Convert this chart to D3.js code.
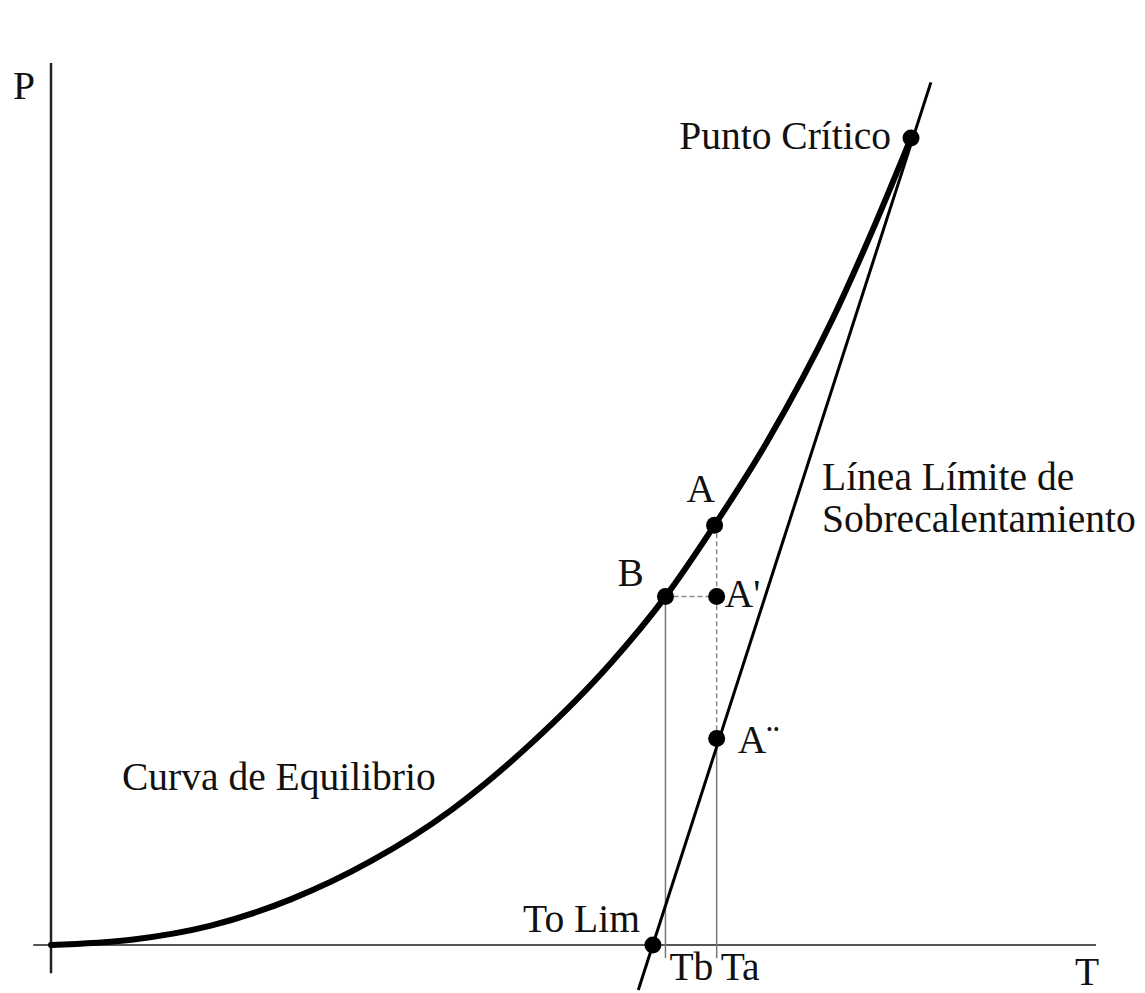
<!DOCTYPE html>
<html>
<head>
<meta charset="utf-8">
<script src="https://cdn.jsdelivr.net/npm/d3@7"></script>
<style>
  html, body { margin: 0; padding: 0; background: #fff; }
</style>
</head>
<body>
<svg id="chart" width="1145" height="993"></svg>
<script>
// Equilibrium curve (T, P) up to the critical point
const curveT = [0, 7.7, 15.3, 23.0, 30.6, 38.3, 45.9, 53.6, 58.8, 63.5, 68.5, 74.8, 79.0, 82.3];
const curveP = [0, 0.6, 2.2, 5.2, 9.5, 15.3, 22.8, 32.0, 39.5, 47.6, 57.0, 71.0, 82.1, 91.5];

// Superheating limit line (straight, two end points)
const limitT = [56.2, 84.2];
const limitP = [-5.1, 97.8];

// Marked states
const pointNames = ["Punto Crítico", "A", "B", "A'", "A¨", "To Lim"];
const pointT = [82.3, 63.5, 58.8, 63.7, 63.7, 57.6];
const pointP = [91.5, 47.6, 39.5, 39.5, 23.4, 0];

// Temperatures marked on the T axis
const tickNames = ["Tb", "Ta"];
const tickT = [58.8, 63.7];

const FONT = "'Liberation Serif', 'Times New Roman', 'DejaVu Serif', serif";

const svg = d3.select("#chart");
const x = d3.scaleLinear().domain([0, 100]).range([51, 1096]);
const y = d3.scaleLinear().domain([0, 100]).range([945, 63]);

// Axes
svg.append("line")
  .attr("x1", x(0)).attr("x2", x(0))
  .attr("y1", y(100)).attr("y2", y(-3.2))
  .attr("stroke", "#222").attr("stroke-width", 2.5);
svg.append("line")
  .attr("x1", x(-1.7)).attr("x2", x(100))
  .attr("y1", y(0)).attr("y2", y(0))
  .attr("stroke", "#555").attr("stroke-width", 2);

const P = n => pointP[pointNames.indexOf(n)];
const Tof = n => pointT[pointNames.indexOf(n)];

// Solid drop lines to the T axis
svg.append("line")
  .attr("x1", x(tickT[0])).attr("x2", x(tickT[0]))
  .attr("y1", y(P("B"))).attr("y2", y(-1.5))
  .attr("stroke", "#777").attr("stroke-width", 1.5);
svg.append("line")
  .attr("x1", x(tickT[1])).attr("x2", x(tickT[1]))
  .attr("y1", y(P("A¨"))).attr("y2", y(-1.5))
  .attr("stroke", "#777").attr("stroke-width", 1.5);

// Dashed construction lines
svg.append("line")
  .attr("x1", x(Tof("B"))).attr("x2", x(Tof("A'")))
  .attr("y1", y(P("B"))).attr("y2", y(P("A'")))
  .attr("stroke", "#888").attr("stroke-width", 1.5)
  .attr("stroke-dasharray", "5,3");
svg.append("line")
  .attr("x1", x(tickT[1])).attr("x2", x(tickT[1]))
  .attr("y1", y(P("A"))).attr("y2", y(P("A¨")))
  .attr("stroke", "#888").attr("stroke-width", 1.5)
  .attr("stroke-dasharray", "5,3");

// Superheating limit line
svg.append("path")
  .datum(d3.zip(limitT, limitP))
  .attr("d", d3.line().x(d => x(d[0])).y(d => y(d[1])))
  .attr("fill", "none").attr("stroke", "#000").attr("stroke-width", 3);

// Equilibrium curve
svg.append("path")
  .datum(d3.zip(curveT, curveP))
  .attr("d", d3.line().x(d => x(d[0])).y(d => y(d[1])).curve(d3.curveMonotoneX))
  .attr("fill", "none").attr("stroke", "#000").attr("stroke-width", 6)
  .attr("stroke-linecap", "round");

// State points
svg.selectAll("circle.pt")
  .data(d3.zip(pointT, pointP))
  .join("circle")
  .attr("class", "pt")
  .attr("cx", d => x(d[0])).attr("cy", d => y(d[1]))
  .attr("r", 8.5).attr("fill", "#000");

// Labels
const fs = 39.5;
const label = (t, px, py, anchor) =>
  svg.append("text").attr("x", px).attr("y", py)
    .attr("font-family", FONT).style("font-family", FONT)
    .attr("font-size", fs).attr("fill", "#111")
    .attr("text-anchor", anchor || "start").text(t);

label("P", 13, 99);
label("T", 1075, 985);
label("Punto Crítico", x(Tof("Punto Crítico")) - 20, y(P("Punto Crítico")) + 11, "end");
label("A", x(Tof("A")) - 28, y(P("A")) - 23);
label("B", x(Tof("B")) - 48, y(P("B")) - 11);
label("A'", x(Tof("A'")) + 8, y(P("A'")) + 10);
label("A¨", x(Tof("A¨")) + 21, y(P("A¨")) + 14);
label("To Lim", x(Tof("To Lim")) - 13, y(P("To Lim")) - 13, "end");
tickNames.forEach((n, i) => label(n, x(tickT[i]) + 4, 980));
label("Línea Límite de", 822, 490);
label("Sobrecalentamiento", 822, 532);
label("Curva de Equilibrio", 122, 790);
</script>
</body>
</html>
